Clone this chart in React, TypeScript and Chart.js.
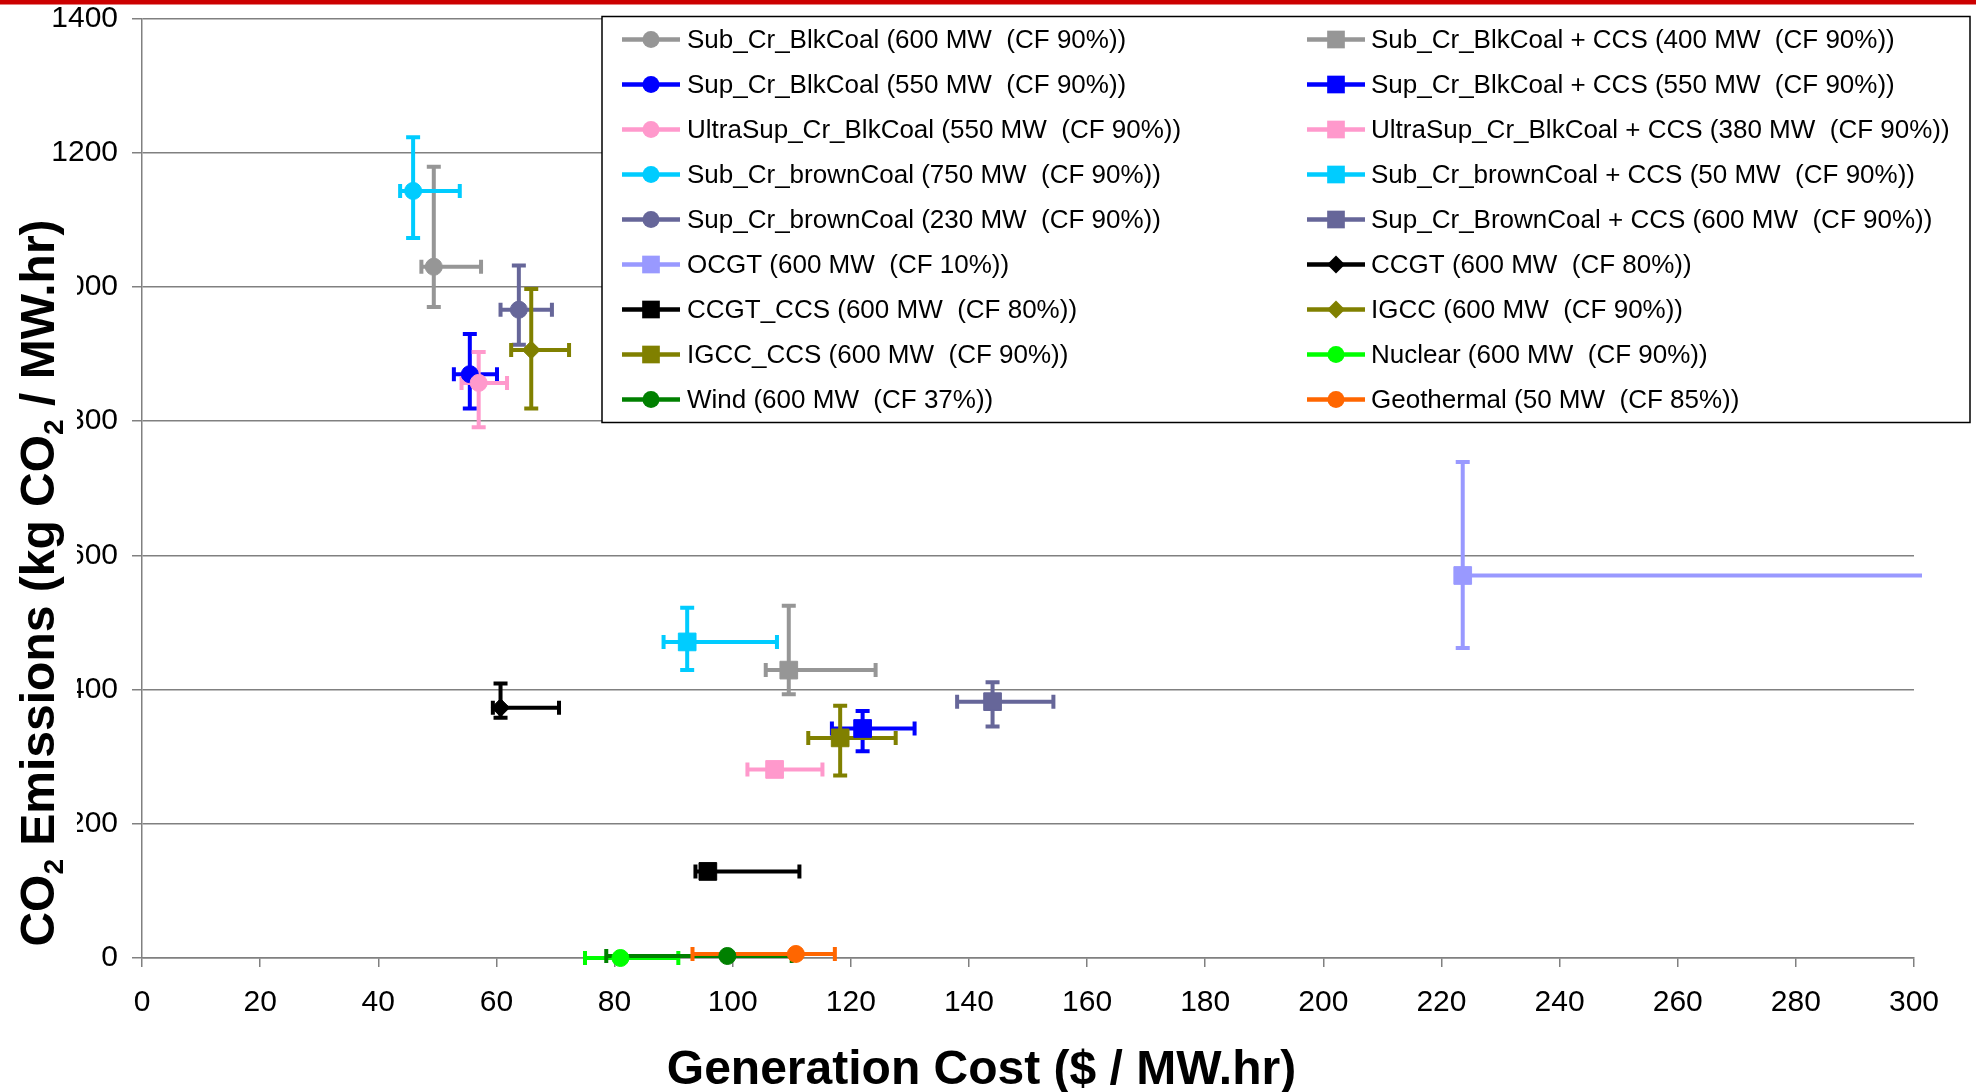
import React, { useEffect, useRef } from "react";
import { Chart, registerables } from "chart.js";

Chart.register(...registerables);

// ---------------- data ----------------
const SERIES_NAMES = [
  "Sub_Cr_BlkCoal (600 MW  (CF 90%))",
  "Sub_Cr_BlkCoal + CCS (400 MW  (CF 90%))",
  "Sup_Cr_BlkCoal (550 MW  (CF 90%))",
  "Sup_Cr_BlkCoal + CCS (550 MW  (CF 90%))",
  "UltraSup_Cr_BlkCoal (550 MW  (CF 90%))",
  "UltraSup_Cr_BlkCoal + CCS (380 MW  (CF 90%))",
  "Sub_Cr_brownCoal (750 MW  (CF 90%))",
  "Sub_Cr_brownCoal + CCS (50 MW  (CF 90%))",
  "Sup_Cr_brownCoal (230 MW  (CF 90%))",
  "Sup_Cr_BrownCoal + CCS (600 MW  (CF 90%))",
  "OCGT (600 MW  (CF 10%))",
  "CCGT (600 MW  (CF 80%))",
  "CCGT_CCS (600 MW  (CF 80%))",
  "IGCC (600 MW  (CF 90%))",
  "IGCC_CCS (600 MW  (CF 90%))",
  "Nuclear (600 MW  (CF 90%))",
  "Wind (600 MW  (CF 37%))",
  "Geothermal (50 MW  (CF 85%))",
];

// Generation cost ($ / MW.hr): central value, low and high of the error range
const COST = [49.4, 109.5, 55.5, 122.0, 57.0, 107.1, 45.9, 92.3, 63.8, 144.0, 223.6, 60.7, 95.8, 65.9, 118.2, 81.0, 99.1, 110.7];
const COST_LOW = [47.3, 105.6, 52.8, 116.8, 54.1, 102.5, 43.7, 88.3, 60.7, 138.0, 223.6, 59.4, 93.7, 62.5, 112.8, 75.0, 78.6, 93.2];
const COST_HIGH = [57.4, 124.2, 60.1, 130.8, 61.8, 115.2, 53.8, 107.5, 69.4, 154.3, 330.0, 70.6, 111.3, 72.3, 127.6, 90.8, 110.0, 117.3];

// CO2 emissions (kg CO2 / MW.hr): central value, low and high of the error range
const CO2 = [1030, 429, 870, 342, 857, 281, 1143, 471, 966, 382, 570, 373, 129, 906, 328, 0, 3, 6];
const CO2_LOW = [970, 393, 819, 308, 791, 275, 1073, 429, 914, 345, 462, 358, 124, 819, 272, 0, 3, 6];
const CO2_HIGH = [1179, 525, 930, 368, 903, 288, 1223, 522, 1032, 411, 739, 409, 134, 997, 376, 0, 3, 6];

const X_TICKS = [0, 20, 40, 60, 80, 100, 120, 140, 160, 180, 200, 220, 240, 260, 280, 300];
const Y_TICKS = [0, 200, 400, 600, 800, 1000, 1200, 1400];

const X_TITLE = "Generation Cost ($ / MW.hr)";
const Y_TITLE_PARTS: [string, boolean][] = [
  ["CO", false],
  ["2", true],
  [" Emissions (kg CO", false],
  ["2", true],
  [" / MW.hr)", false],
];

// ---------------- styles ----------------
const COLORS = [
  "#969696", "#969696",
  "#0000FF", "#0000FF",
  "#FF99CC", "#FF99CC",
  "#00CCFF", "#00CCFF",
  "#666699", "#666699",
  "#9999FF", "#000000",
  "#000000", "#808000",
  "#808000", "#00FF00",
  "#008000", "#FF6600",
];
const MARKERS = [
  "circle", "rect",
  "circle", "rect",
  "circle", "rect",
  "circle", "rect",
  "circle", "rect",
  "rect", "rectRot",
  "rect", "rectRot",
  "rect", "circle",
  "circle", "circle",
];
const MARKER_RADIUS: Record<string, number> = { circle: 8.5, rect: 12.5, rectRot: 9 };

const FONT = '"Liberation Sans", Arial, Helvetica, sans-serif';
const W = 1976;
const H = 1092;
const TICK_FONT = 30;

function drawMarker(ctx: CanvasRenderingContext2D, style: string, x: number, y: number, color: string) {
  const r = MARKER_RADIUS[style];
  ctx.fillStyle = color;
  ctx.beginPath();
  if (style === "circle") {
    ctx.arc(x, y, r, 0, Math.PI * 2);
  } else if (style === "rect") {
    const s = r * Math.SQRT1_2;
    ctx.rect(x - s, y - s, 2 * s, 2 * s);
  } else {
    ctx.moveTo(x, y - r);
    ctx.lineTo(x + r, y);
    ctx.lineTo(x, y + r);
    ctx.lineTo(x - r, y);
    ctx.closePath();
  }
  ctx.fill();
}

const backgroundPlugin = {
  id: "bg",
  beforeDraw(chart: any) {
    const ctx = chart.ctx as CanvasRenderingContext2D;
    ctx.save();
    ctx.fillStyle = "#ffffff";
    ctx.fillRect(0, 0, W, H);
    ctx.fillStyle = "#CC0000";
    ctx.fillRect(0, 0, W, 4.5);
    ctx.restore();
  },
};

const errorBarPlugin = {
  id: "errorBars",
  beforeDatasetsDraw(chart: any) {
    const ctx = chart.ctx as CanvasRenderingContext2D;
    const xs = chart.scales.x;
    const ys = chart.scales.y;
    const area = chart.chartArea;
    const cap = 7;
    ctx.save();
    ctx.beginPath();
    ctx.rect(area.left - 30, area.top - 30, area.right - area.left + 38, area.bottom - area.top + 60);
    ctx.clip();
    ctx.lineWidth = 4;
    ctx.lineCap = "butt";
    for (let i = 0; i < SERIES_NAMES.length; i++) {
      ctx.strokeStyle = COLORS[i];
      const px = xs.getPixelForValue(COST[i]);
      const py = ys.getPixelForValue(CO2[i]);
      if (COST_LOW[i] !== COST_HIGH[i]) {
        const x0 = xs.getPixelForValue(COST_LOW[i]);
        const x1 = xs.getPixelForValue(COST_HIGH[i]);
        ctx.beginPath();
        ctx.moveTo(x0, py);
        ctx.lineTo(x1, py);
        if (COST_LOW[i] !== COST[i]) {
          ctx.moveTo(x0, py - cap);
          ctx.lineTo(x0, py + cap);
        }
        if (COST_HIGH[i] !== COST[i]) {
          ctx.moveTo(x1, py - cap);
          ctx.lineTo(x1, py + cap);
        }
        ctx.stroke();
      }
      if (CO2_LOW[i] !== CO2_HIGH[i]) {
        const y0 = ys.getPixelForValue(CO2_LOW[i]);
        const y1 = ys.getPixelForValue(CO2_HIGH[i]);
        ctx.beginPath();
        ctx.moveTo(px, y0);
        ctx.lineTo(px, y1);
        ctx.moveTo(px - cap, y0);
        ctx.lineTo(px + cap, y0);
        ctx.moveTo(px - cap, y1);
        ctx.lineTo(px + cap, y1);
        ctx.stroke();
      }
    }
    ctx.restore();
  },
};

const overlayPlugin = {
  id: "overlay",
  afterDraw(chart: any) {
    const ctx = chart.ctx as CanvasRenderingContext2D;
    ctx.save();

    // ---- y-axis title (white box covering part of the tick labels) ----
    ctx.fillStyle = "#ffffff";
    ctx.fillRect(0, 205, 77, 742);
    const F = 48;
    const SF = 28;
    let total = 0;
    for (const [t, sub] of Y_TITLE_PARTS) {
      ctx.font = `bold ${sub ? SF : F}px ${FONT}`;
      total += ctx.measureText(t).width;
    }
    ctx.save();
    ctx.translate(54, 583);
    ctx.rotate(-Math.PI / 2);
    ctx.fillStyle = "#000";
    ctx.textBaseline = "alphabetic";
    ctx.textAlign = "left";
    let tx = -total / 2;
    for (const [t, sub] of Y_TITLE_PARTS) {
      ctx.font = `bold ${sub ? SF : F}px ${FONT}`;
      ctx.fillText(t, tx, sub ? 9 : 0);
      tx += ctx.measureText(t).width;
    }
    ctx.restore();

    // ---- x-axis title ----
    ctx.font = `bold ${F}px ${FONT}`;
    ctx.fillStyle = "#000";
    ctx.textAlign = "center";
    ctx.textBaseline = "alphabetic";
    ctx.fillText(X_TITLE, 981.5, 1084);

    // ---- legend ----
    const lx = 602, ly = 16.5, lw = 1368, lh = 406;
    ctx.fillStyle = "#ffffff";
    ctx.fillRect(lx, ly, lw, lh);
    ctx.strokeStyle = "#000";
    ctx.lineWidth = 1.5;
    ctx.strokeRect(lx, ly, lw, lh);
    const colLineStart = [622, 1307];
    const colText = [687, 1371];
    ctx.font = `26px ${FONT}`;
    ctx.textAlign = "left";
    ctx.textBaseline = "middle";
    for (let i = 0; i < SERIES_NAMES.length; i++) {
      const col = i % 2;
      const row = Math.floor(i / 2);
      const cy = 39.5 + row * 45;
      const x0 = colLineStart[col];
      ctx.strokeStyle = COLORS[i];
      ctx.lineWidth = 4.5;
      ctx.beginPath();
      ctx.moveTo(x0, cy);
      ctx.lineTo(x0 + 58, cy);
      ctx.stroke();
      drawMarker(ctx, MARKERS[i], x0 + 29, cy, COLORS[i]);
      ctx.fillStyle = "#000";
      ctx.fillText(SERIES_NAMES[i], colText[col], cy + 1);
    }
    ctx.restore();
  },
};

export default function App() {
  const ref = useRef<HTMLCanvasElement>(null);
  useEffect(() => {
    document.body.style.margin = "0";
    const canvas = ref.current;
    if (!canvas) return;
    const N = SERIES_NAMES.length;
    const chart = new Chart(canvas, {
      type: "scatter",
      data: {
        datasets: SERIES_NAMES.map((name, i) => ({
          label: name,
          data: [{ x: COST[i], y: CO2[i] }],
          pointStyle: MARKERS[i] as any,
          pointRadius: MARKER_RADIUS[MARKERS[i]],
          pointHoverRadius: MARKER_RADIUS[MARKERS[i]],
          backgroundColor: COLORS[i],
          borderColor: COLORS[i],
          borderWidth: 1,
          showLine: false,
          clip: false as any,
          order: N - i,
        })),
      },
      options: {
        responsive: false,
        animation: false,
        devicePixelRatio: 1,
        events: [],
        layout: { padding: { top: 18.5, right: 62, left: 0, bottom: 0 } },
        plugins: {
          legend: { display: false },
          tooltip: { enabled: false },
          title: { display: false },
        },
        scales: {
          x: {
            type: "linear",
            min: 0,
            max: 300,
            afterBuildTicks: (s: any) => {
              s.ticks = X_TICKS.map((v) => ({ value: v }));
            },
            afterFit: (s: any) => {
              s.height = 134;
              s.paddingLeft = 0;
              s.paddingRight = 0;
            },
            grid: {
              drawOnChartArea: false,
              drawTicks: true,
              tickLength: 9,
              color: "#808080",
              lineWidth: 1.5,
            },
            border: { display: true, color: "#808080", width: 1.5 },
            ticks: {
              color: "#000",
              font: { family: FONT, size: TICK_FONT },
              padding: 18,
              maxRotation: 0,
              autoSkip: false,
              callback: (v: any) => String(v),
            },
          },
          y: {
            type: "linear",
            min: 0,
            max: 1400,
            afterBuildTicks: (s: any) => {
              s.ticks = Y_TICKS.map((v) => ({ value: v }));
            },
            afterFit: (s: any) => {
              s.width = 142;
              s.paddingTop = 0;
              s.paddingBottom = 0;
            },
            grid: {
              drawOnChartArea: true,
              drawTicks: true,
              tickLength: 10,
              color: "#808080",
              lineWidth: 1.5,
            },
            border: { display: true, color: "#808080", width: 1.5 },
            ticks: {
              color: "#000",
              font: { family: FONT, size: TICK_FONT },
              padding: 14,
              autoSkip: false,
              callback: (v: any) => String(v),
            },
          },
        },
      },
      plugins: [backgroundPlugin, errorBarPlugin, overlayPlugin],
    });
    return () => chart.destroy();
  }, []);
  return (
    <div style={{ position: "absolute", left: 0, top: 0, width: W, height: H, background: "#fff" }}>
      <canvas ref={ref} width={W} height={H} style={{ display: "block", width: W, height: H }} />
    </div>
  );
}
